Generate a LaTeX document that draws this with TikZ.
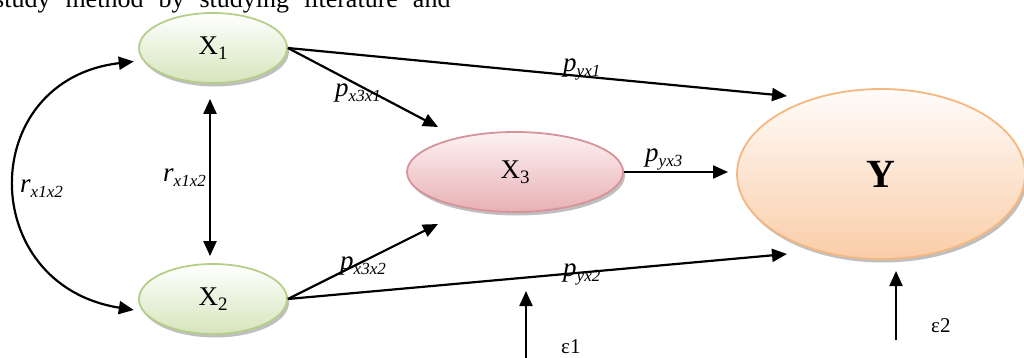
\documentclass[tikz,border=0pt]{standalone}
\usepackage{fontspec}
\setmainfont{Liberation Serif}
\usetikzlibrary{shapes.geometric,arrows.meta,shadows}
\definecolor{gborder}{HTML}{B5CF8A}
\definecolor{gfill}{HTML}{D6E5BC}
\definecolor{rborder}{HTML}{D6939A}
\definecolor{rfill}{HTML}{E8B0B4}
\definecolor{rtop}{HTML}{FDF2F2}
\definecolor{oborder}{HTML}{F5B77F}
\definecolor{ofill}{HTML}{FACDA8}
\definecolor{otop}{HTML}{FFFCFA}
\newcommand{\mylbl}[2]{#1\raisebox{-5pt}{\fontsize{17}{17}\selectfont #2}}
\newcommand{\myxsub}[1]{X\raisebox{-5pt}{\fontsize{19}{19}\selectfont #1}}
\begin{document}
\begin{tikzpicture}[x=1pt,y=-1pt,
  ell/.style={ellipse, line width=1.8pt, inner sep=0pt,
    drop shadow={shadow xshift=2pt, shadow yshift=-3.5pt, opacity=0.25, fill=black}},
  grn/.style={ell, draw=gborder, top color=white, bottom color=gfill,
    minimum width=148pt, minimum height=70pt, font=\fontsize{27}{30}\selectfont},
  red/.style={ell, draw=rborder, top color=rtop, bottom color=rfill,
    minimum width=216pt, minimum height=80pt, font=\fontsize{27}{30}\selectfont},
  org/.style={ell, draw=oborder, top color=otop, bottom color=ofill,
    minimum width=288pt, minimum height=170pt, font=\fontsize{40}{44}\selectfont\bfseries},
  tip/.tip={Triangle[length=15pt,width=13pt]},
  conn/.style={line width=2.2pt, -tip},
  biconn/.style={line width=2.2pt, tip-tip},
  lbl/.style={anchor=base west, inner sep=0pt, font=\fontsize{27}{30}\selectfont\itshape},
  eps/.style={anchor=base west, inner sep=0pt, font=\fontsize{21}{23}\selectfont}
]
\useasboundingbox (0,0) rectangle (1024,358);

% partial running text at top
\node[anchor=base west, inner sep=0pt, font=\fontsize{26}{30}\selectfont] (toptext) at (-6,8)
  {\spaceskip=15pt study method by studying literature and};

% ellipses
\node[grn] (x1) at (213,48) {\myxsub{1}};
\node[grn] (x2) at (213,299) {\myxsub{2}};
\node[red] (x3) at (515,172) {\myxsub{3}};
\node[org] (y) at (881,174) {\raisebox{-5pt}{Y}};

% arrow end coordinates
\coordinate (t1) at (787,96);
\coordinate (t2) at (438,127);
\coordinate (t3) at (438,224);
\coordinate (t4) at (787,254);
\coordinate (t5) at (728,172);
\coordinate (e1s) at (526,362);
\coordinate (e1t) at (526,291);
\coordinate (e2s) at (896,340);
\coordinate (e2t) at (896,271);

% connectors
\draw[conn] (x1.east) -- (t1);
\draw[conn] (x1.east) -- (t2);
\draw[conn] (x2.east) -- (t3);
\draw[conn] (x2.east) -- (t4);
\draw[conn] (x3.east) -- (t5);
\draw[conn] (e1s) -- (e1t);
\draw[conn] (e2s) -- (e2t);
\draw[biconn, shorten <=15pt, shorten >=7pt] ([xshift=-3pt]x1.south) -- ([xshift=-3pt]x2.north);
\draw[biconn, shorten <=9pt, shorten >=9pt] (x1.190) .. controls (-24,80) and (-24,285) .. (x2.190);

% labels
\node[lbl] (lyx1) at (563,72) {\mylbl{p}{yx1}};
\node[lbl] (lx3x1) at (335,97) {\mylbl{p}{x3x1}};
\node[lbl] (lx3x2) at (340,269) {\mylbl{p}{x3x2}};
\node[lbl] (lyx2) at (563,276) {\mylbl{p}{yx2}};
\node[lbl] (lyx3) at (645,162) {\mylbl{p}{yx3}};
\node[lbl] (lr1) at (163,182) {\mylbl{r}{x1x2}};
\node[lbl] (lr2) at (20,193) {\mylbl{r}{x1x2}};
\node[eps] (le1) at (561,353) {ε1};
\node[eps] (le2) at (931,332) {ε2};
\end{tikzpicture}
\end{document}
